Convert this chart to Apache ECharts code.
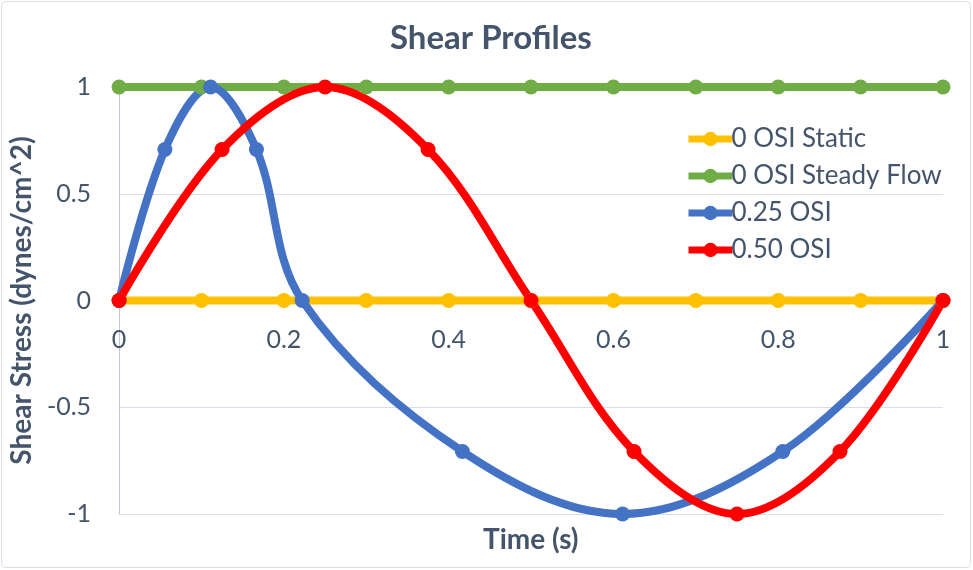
<!DOCTYPE html>
<html><head><meta charset="utf-8">
<script src="https://cdn.jsdelivr.net/npm/echarts@6/dist/echarts.min.js"></script>
<style>html,body{margin:0;padding:0;background:#fff}#c{width:973px;height:570px}</style>
</head><body><div id="c"></div>
<script>
const seriesNames = ['0 OSI Static', '0 OSI Steady Flow', '0.25 OSI', '0.50 OSI'];
const staticX = [0, 0.1, 0.2, 0.3, 0.4, 0.5, 0.6, 0.7, 0.8, 0.9, 1];
const staticY = [0, 0, 0, 0, 0, 0, 0, 0, 0, 0, 0];
const steadyX = [0, 0.1, 0.2, 0.3, 0.4, 0.5, 0.6, 0.7, 0.8, 0.9, 1];
const steadyY = [1, 1, 1, 1, 1, 1, 1, 1, 1, 1, 1];
const osi25X = [0, 0.0556, 0.1111, 0.1667, 0.2222, 0.4167, 0.6111, 0.8056, 1];
const osi25Y = [0, 0.707, 1, 0.707, 0, -0.707, -1, -0.707, 0];
const osi50X = [0, 0.125, 0.25, 0.375, 0.5, 0.625, 0.75, 0.875, 1];
const osi50Y = [0, 0.707, 1, 0.707, 0, -0.707, -1, -0.707, 0];
const colors = ['#ffc000', '#70ad47', '#4472c4', '#ff0000'];

const zip = (xs, ys) => xs.map((x, i) => [x, ys[i]]);
const dataSets = [zip(staticX, staticY), zip(steadyX, steadyY), zip(osi25X, osi25Y), zip(osi50X, osi50Y)];
const font = 'Lato, "Open Sans", sans-serif';
const txt = '#44546a';

const chart = echarts.init(document.getElementById('c'));
chart.setOption({
  animation: false,
  color: colors,
  title: {
    text: 'Shear Profiles', left: 385, top: 17,
    textStyle: {fontFamily: font, fontSize: 33, fontWeight: 'bold', color: txt}
  },
  legend: {
    orient: 'vertical', left: 680, top: 121, itemGap: 11,
    itemWidth: 44, itemHeight: 18,
    data: seriesNames,
    lineStyle: {width: 7},
    textStyle: {fontFamily: font, fontSize: 26, color: txt, padding: [0, 0, 0, -6]}
  },
  grid: {left: 117, right: 30, top: 87, bottom: 56, containLabel: false},
  xAxis: {
    type: 'value', min: 0, max: 1, interval: 0.2,
    position: 'bottom', offset: -213.5,
    axisLine: {onZero: false, lineStyle: {color: '#bfc7d5', width: 1}},
    axisTick: {show: false},
    splitLine: {show: false},
    axisLabel: {fontFamily: font, fontSize: 25, color: txt, margin: 27}
  },
  yAxis: {
    type: 'value', min: -1, max: 1, interval: 0.5,
    axisLine: {show: true, onZero: false, lineStyle: {color: '#bfc7d5', width: 1}},
    axisTick: {show: false},
    splitLine: {show: true, lineStyle: {color: '#d9dee8', width: 1}},
    axisLabel: {fontFamily: font, fontSize: 25, color: txt, margin: 28},
    name: 'Shear Stress (dynes/cm^2)', nameLocation: 'middle', nameGap: 78,
    nameTextStyle: {fontFamily: font, fontSize: 28, fontWeight: 'bold', color: txt}
  },
  graphic: [
    {type: 'rect', shape: {x: 1.5, y: 1.5, width: 969, height: 566, r: 4}, style: {fill: 'none', stroke: '#d9dde5', lineWidth: 1}, z: -1},
    {type: 'text', left: 483, top: 526, style: {text: 'Time (s)', fontFamily: font, fontSize: 28, fontWeight: 'bold', fill: txt}}
  ],
  series: seriesNames.map((n, i) => ({
    name: n, type: 'line', data: dataSets[i],
    smooth: 0.35,
    symbol: 'circle', symbolSize: 15,
    lineStyle: {width: 8, color: colors[i]},
    itemStyle: {color: colors[i]}
  }))
});
</script></body></html>
